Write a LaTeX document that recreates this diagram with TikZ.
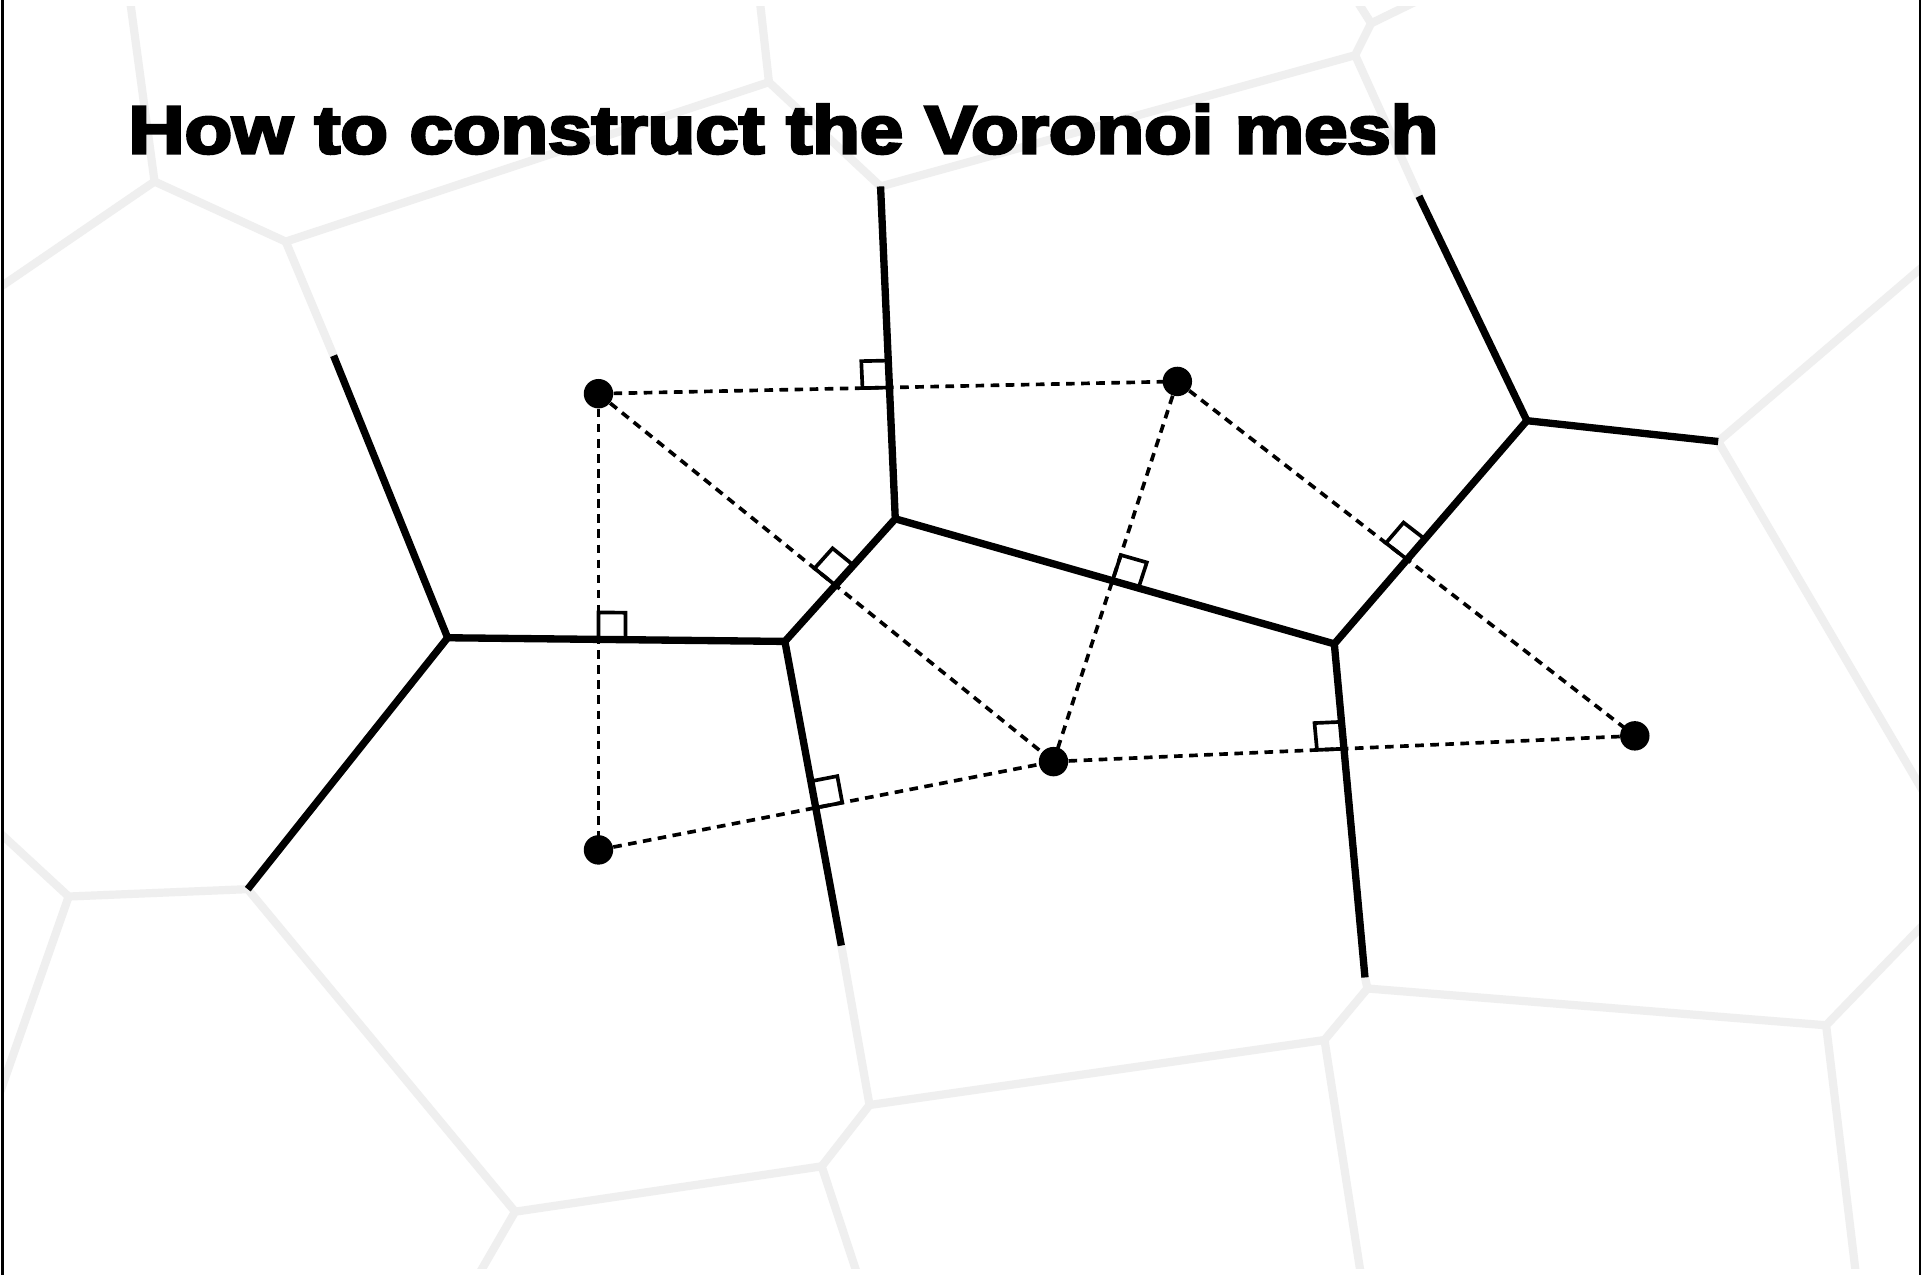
\documentclass[tikz,border=0pt]{standalone}
\usepackage{fontspec}
\setmainfont{Liberation Sans}
\newfontfamily\titlefont{Liberation Sans}[BoldFeatures={FakeBold=4}]
\usetikzlibrary{calc}
\definecolor{meshgray}{RGB}{239,239,239}
\tikzset{
  oldmesh/.style={draw=meshgray, line width=1.9pt, line join=round},
  voro/.style={draw=black, line width=1.7pt, line join=miter},
  dela/.style={draw=black, line width=0.85pt, dash pattern=on 2pt off 1.5pt},
  rmark/.style={draw=black, line width=0.85pt},
  site/.style={fill=black},
  frameline/.style={draw=black, line width=0.5pt}
}
\newcommand{\rmk}[3]{%
  \coordinate (rmA) at ($(#1)!2.2mm!(#2)$);
  \coordinate (rmB) at ($(#1)!2.2mm!(#3)$);
  \draw[rmark] (#1) -- (rmA) -- ($(rmA)+(rmB)-(#1)$) -- (rmB) -- cycle;
}
\begin{document}
\begin{tikzpicture}[x=0.1mm,y=-0.1mm]
\useasboundingbox (0,0) rectangle (1568,1040);
\fill[white] (0,0) rectangle (1568,1040);

% Voronoi vertices and edge ends
\coordinate (L) at (365,520);
\coordinate (M) at (640,523);
\coordinate (N) at (730,423);
\coordinate (Q) at (1088,525);
\coordinate (R) at (1245,343);
\coordinate (eL1) at (272,290);
\coordinate (eL2) at (202,725);
\coordinate (eM) at (686,771);
\coordinate (eN) at (718,152);
\coordinate (eQ) at (1113,797);
\coordinate (eR1) at (1157,160);
\coordinate (eR2) at (1401,360);

% sites
\coordinate (P1) at (488,321);
\coordinate (P2) at (960,311);
\coordinate (P3) at (488,693);
\coordinate (P4) at (859,621);
\coordinate (P5) at (1333,600);

% background mesh vertices
\coordinate (g1) at (106,0);
\coordinate (ga) at (126,148);
\coordinate (g2) at (-10,241);
\coordinate (gb) at (233,197);
\coordinate (gc) at (627,67);
\coordinate (g3) at (619.5,0);
\coordinate (gd) at (1105,45);
\coordinate (ge) at (1118,19);
\coordinate (g4) at (1106,0);
\coordinate (g5) at (1157,0);
\coordinate (g6) at (1580,207);
\coordinate (g7) at (1575,657);
\coordinate (g8) at (1575,747);
\coordinate (gf) at (1489,836);
\coordinate (g9) at (1514,1045);
\coordinate (gg) at (1115,806);
\coordinate (gh) at (1080,848);
\coordinate (g10) at (1110.5,1045);
\coordinate (gi) at (709,901);
\coordinate (gj) at (670,951);
\coordinate (g11) at (701,1045);
\coordinate (gk) at (420,988);
\coordinate (g12) at (387,1045);
\coordinate (gl) at (56,731);
\coordinate (g13) at (-10,670);
\coordinate (g14) at (-5,905);

\begin{scope}
\clip (3,5.5) rectangle (1565,1034);
\draw[oldmesh] (g1)--(ga)--(gb)--(eL1);
\draw[oldmesh] (g2)--(ga);
\draw[oldmesh] (gb)--(gc)--(g3);
\draw[oldmesh] (gc)--(eN);
\draw[oldmesh] (eN)--(gd)--(ge)--(g4);
\draw[oldmesh] (ge)--(g5);
\draw[oldmesh] (gd)--(eR1);
\draw[oldmesh] (g6)--(eR2)--(g7);
\draw[oldmesh] (g8)--(gf)--(g9);
\draw[oldmesh] (gf)--(gg)--(gh)--(g10);
\draw[oldmesh] (eQ)--(gg);
\draw[oldmesh] (gh)--(gi)--(gj)--(g11);
\draw[oldmesh] (eM)--(gi);
\draw[oldmesh] (gj)--(gk)--(g12);
\draw[oldmesh] (gk)--(eL2)--(gl)--(g13);
\draw[oldmesh] (gl)--(g14);
\end{scope}

% frame
\draw[frameline] (2,0) -- (2,1040);
\draw[frameline] (1565.5,0) -- (1565.5,1040);

% Voronoi edges
\draw[voro] (eL1)--(L)--(M)--(N)--(eN);
\draw[voro] (L)--(eL2);
\draw[voro] (M)--(eM);
\draw[voro] (N)--(Q)--(R)--(eR1);
\draw[voro] (Q)--(eQ);
\draw[voro] (R)--(eR2);

% Delaunay edges
\draw[dela] (P1)--(P2);
\draw[dela] (P1)--(P3);
\draw[dela] (P1)--(P4);
\draw[dela] (P2)--(P4);
\draw[dela] (P2)--(P5);
\draw[dela] (P3)--(P4);
\draw[dela] (P4)--(P5);

% right-angle markers
\coordinate (x1) at (intersection of P1--P2 and N--eN);
\coordinate (x2) at (intersection of P1--P3 and L--M);
\coordinate (x3) at (intersection of P1--P4 and M--N);
\coordinate (x4) at (intersection of P2--P4 and N--Q);
\coordinate (x5) at (intersection of P2--P5 and Q--R);
\coordinate (x6) at (intersection of P3--P4 and M--eM);
\coordinate (x7) at (intersection of P4--P5 and Q--eQ);
\rmk{x1}{P1}{eN}
\rmk{x2}{P1}{M}
\rmk{x3}{P1}{N}
\rmk{x4}{P2}{Q}
\rmk{x5}{P2}{R}
\rmk{x6}{M}{P4}
\rmk{x7}{Q}{P4}

% sites
\foreach \p in {P1,P2,P3,P4,P5} \fill[site] (\p) circle (1.2mm);

% title
\node[anchor=base west, inner sep=0pt] (title) at (104,125)
  {\resizebox{106.8mm}{4.0mm}{\titlefont\bfseries How to construct the Voronoi mesh}};
\end{tikzpicture}
\end{document}
